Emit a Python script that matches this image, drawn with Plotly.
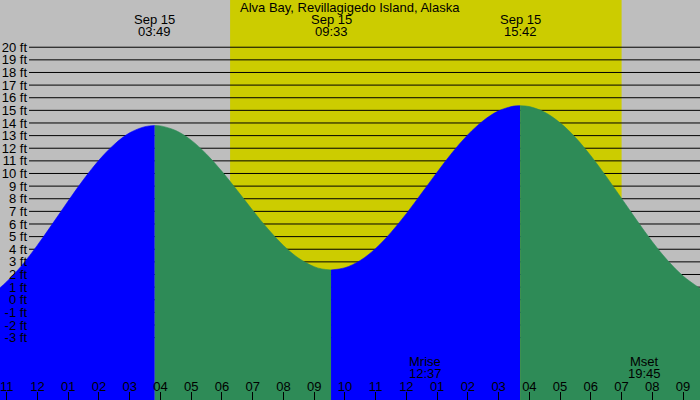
import plotly.graph_objects as go
from datetime import datetime

# ---------------- data ----------------
station = "Alva Bay, Revillagigedo Island, Alaska"

view_start = "2024-09-14 22:47"
view_end = "2024-09-15 21:33"
date_change = "2024-09-15 00:00"

sunrise = "2024-09-15 06:16"
sunset = "2024-09-15 19:00"

moon_events = ["Mrise", "Mset"]
moon_times = ["2024-09-15 12:37", "2024-09-15 19:45"]

extreme_times = ["2024-09-15 03:49", "2024-09-15 09:33", "2024-09-15 15:42"]

# rising tide to the 03:49 high
rise1_times = ["2024-09-14 22:47", "2024-09-14 23:00", "2024-09-14 23:30", "2024-09-15 00:00",
               "2024-09-15 00:30", "2024-09-15 01:00", "2024-09-15 01:30", "2024-09-15 02:00",
               "2024-09-15 02:30", "2024-09-15 03:00", "2024-09-15 03:30", "2024-09-15 03:49"]
rise1_ft = [0.95, 1.43, 2.74, 4.32, 6.05, 7.82, 9.52, 11.05, 12.30, 13.22, 13.71, 13.80]

# falling tide, 03:49 high -> 09:33 low
fall1_times = ["2024-09-15 03:49", "2024-09-15 04:00", "2024-09-15 04:30", "2024-09-15 05:00",
               "2024-09-15 05:30", "2024-09-15 06:00", "2024-09-15 06:30", "2024-09-15 07:00",
               "2024-09-15 07:30", "2024-09-15 08:00", "2024-09-15 08:30", "2024-09-15 09:00",
               "2024-09-15 09:15", "2024-09-15 09:33"]
fall1_ft = [13.80, 13.77, 13.40, 12.64, 11.53, 10.17, 8.65, 7.09, 5.60, 4.30, 3.28, 2.62,
            2.44, 2.36]

# rising tide, 09:33 low -> 15:42 high
rise2_times = ["2024-09-15 09:33", "2024-09-15 10:00", "2024-09-15 10:30", "2024-09-15 11:00",
               "2024-09-15 11:30", "2024-09-15 12:00", "2024-09-15 12:30", "2024-09-15 13:00",
               "2024-09-15 13:30", "2024-09-15 14:00", "2024-09-15 14:30", "2024-09-15 15:00",
               "2024-09-15 15:30", "2024-09-15 15:42"]
rise2_ft = [2.36, 2.53, 3.11, 4.06, 5.33, 6.82, 8.45, 10.10, 11.68, 13.07, 14.18, 14.96,
            15.34, 15.37]

# falling tide, 15:42 high -> end of view
fall2_times = ["2024-09-15 15:42", "2024-09-15 16:00", "2024-09-15 16:30", "2024-09-15 17:00",
               "2024-09-15 17:30", "2024-09-15 18:00", "2024-09-15 18:30", "2024-09-15 19:00",
               "2024-09-15 19:30", "2024-09-15 20:00", "2024-09-15 20:30", "2024-09-15 21:00",
               "2024-09-15 21:33"]
fall2_ft = [15.37, 15.30, 14.85, 14.01, 12.85, 11.40, 9.76, 8.02, 6.27, 4.59, 3.10, 1.88, 0.90]

ft_ticks = [-3, -2, -1, 0, 1, 2, 3, 4, 5, 6, 7, 8, 9, 10, 11, 12, 13, 14, 15, 16, 17, 18, 19, 20]

# ---------------- styling ----------------
W, H = 700, 400
GREY = "#BEBEBE"
YELLOW = "#CCCC00"
BLUE = "#0000FF"
GREEN = "#2E8B57"
FONT = "Liberation Sans, Arial, sans-serif"
FS = 13
Y_RANGE = [-7.94, 23.74]
GRID_X0 = 29 / W

fig = go.Figure()

segments = [
    (rise1_times, rise1_ft, BLUE),
    (fall1_times, fall1_ft, GREEN),
    (rise2_times, rise2_ft, BLUE),
    (fall2_times, fall2_ft, GREEN),
]
for times, ft, color in segments:
    fig.add_trace(go.Scatter(x=[times[0], times[-1]], y=[Y_RANGE[0], Y_RANGE[0]],
                             mode="lines", line=dict(width=0, color=color),
                             hoverinfo="skip", showlegend=False))
    fig.add_trace(go.Scatter(x=times, y=ft, mode="lines",
                             line=dict(width=0.6, color=color, shape="spline", smoothing=1.0),
                             fill="tonexty", fillcolor=color,
                             hoverinfo="skip", showlegend=False))

shapes = [dict(type="rect", xref="x", yref="paper", x0=sunrise, x1=sunset, y0=0, y1=1,
               fillcolor=YELLOW, line=dict(width=0), layer="below")]
for v in ft_ticks:
    shapes.append(dict(type="line", xref="paper", yref="y", x0=GRID_X0, x1=1, y0=v, y1=v,
                       line=dict(color="black", width=1), layer="below"))

font = dict(family=FONT, size=FS, color="black")
annotations = [dict(text=station, xref="paper", yref="paper", x=0.5, y=1 - 7.5 / H,
                    showarrow=False, xanchor="center", yanchor="middle", font=font)]
for t in extreme_times:
    dt = datetime.strptime(t, "%Y-%m-%d %H:%M")
    annotations.append(dict(text=dt.strftime("%b %d").replace(" 0", " "), x=t, xref="x",
                            yref="paper", y=1 - 19.5 / H, showarrow=False,
                            xanchor="center", yanchor="middle", font=font))
    annotations.append(dict(text=dt.strftime("%H:%M"), x=t, xref="x",
                            yref="paper", y=1 - 31.8 / H, showarrow=False,
                            xanchor="center", yanchor="middle", font=font))
for name, t in zip(moon_events, moon_times):
    dt = datetime.strptime(t, "%Y-%m-%d %H:%M")
    annotations.append(dict(text=name, x=t, xref="x", yref="paper", y=1 - 361.7 / H,
                            showarrow=False, xanchor="center", yanchor="middle", font=font))
    annotations.append(dict(text=dt.strftime("%H:%M"), x=t, xref="x", yref="paper",
                            y=1 - 373.5 / H, showarrow=False, xanchor="center",
                            yanchor="middle", font=font))

fig.update_layout(
    width=W, height=H,
    margin=dict(l=0, r=0, t=0, b=0, pad=0),
    paper_bgcolor=GREY, plot_bgcolor=GREY,
    showlegend=False,
    shapes=shapes,
    annotations=annotations,
    xaxis=dict(type="date", range=[view_start, view_end], tickmode="linear",
               tick0="2024-09-14 23:00", dtick=3600000, tickformat="%I",
               ticks="inside", ticklen=8, tickwidth=1, tickcolor="black",
               ticklabelposition="inside", ticklabeloverflow="allow",
               ticklabelstandoff=-2, tickfont=font,
               showgrid=False, zeroline=False, showline=False, fixedrange=True),
    xaxis2=dict(type="date", overlaying="x", matches="x", anchor="y",
                range=[view_start, view_end], tickmode="array", tickvals=[date_change],
                ticks="inside", ticklen=8, tickwidth=3, tickcolor="black",
                showticklabels=False, showgrid=False, zeroline=False, showline=False),
    xaxis3=dict(type="date", overlaying="x", matches="x", anchor="y",
                range=[view_start, view_end], tickmode="array", tickvals=moon_times,
                ticks="inside", ticklen=8, tickwidth=1, tickcolor="red",
                showticklabels=False, showgrid=False, zeroline=False, showline=False),
    yaxis=dict(range=Y_RANGE, anchor="free", position=GRID_X0, tickmode="array",
               tickvals=ft_ticks, ticktext=[f"{v} ft" for v in ft_ticks],
               ticks="", ticklabelstandoff=2, tickfont=font, showgrid=False,
               zeroline=False, showline=False, fixedrange=True),
)

fig.write_html("out.html", config={"displayModeBar": False},
               post_script="document.body.style.margin='0px';")
